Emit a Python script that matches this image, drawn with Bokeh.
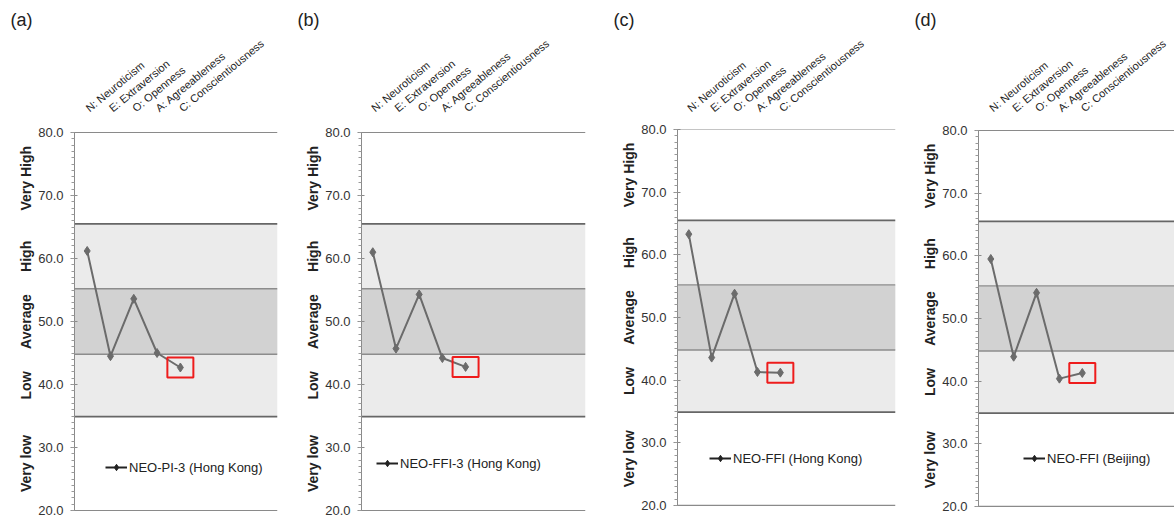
from bokeh.plotting import figure
from bokeh.layouts import row
from bokeh.models import (Range1d, LinearAxis, FixedTicker, BoxAnnotation, Span,
                          Title, Legend, LegendItem, PrintfTickFormatter)
from bokeh.embed import file_html
from bokeh.resources import INLINE

FONT = "Liberation Sans"

# ---------------- data ----------------
categories = ["N: Neuroticism", "E: Extraversion", "O: Openness",
              "A: Agreeableness", "C: Conscientiousness"]
positions = [1, 2, 3, 4, 5]
scores_a = [61.2, 44.5, 53.6, 45.0, 42.7]
scores_b = [61.0, 45.7, 54.3, 44.2, 42.8]
scores_c = [63.3, 43.6, 53.8, 41.3, 41.2]
scores_d = [59.5, 43.9, 54.1, 40.4, 41.3]
series_names = ["NEO-PI-3 (Hong Kong)", "NEO-FFI-3 (Hong Kong)",
                "NEO-FFI (Hong Kong)", "NEO-FFI (Beijing)"]
panel_tags = ["(a)", "(b)", "(c)", "(d)"]
band_edges = [20.0, 34.9, 44.8, 55.2, 65.5, 80.0]
band_names = ["Very low", "Low", "Average", "High", "Very High"]
y_ticks = [20, 30, 40, 50, 60, 70, 80]
highlight_index = 4

# ---------------- layout per panel ----------------
H = 518
MBT = 129
MBB = 2
panels = [
    dict(scores=scores_a, width=290, mbl=74, mbr=13,
         xr=(0.455, 9.17), yr=(19.05, 80.48), leg=(31, 41)),
    dict(scores=scores_b, width=310, mbl=71, mbr=15,
         xr=(0.513, 10.17), yr=(19.05, 80.48), leg=(15, 45)),
    dict(scores=scores_c, width=300, mbl=77, mbr=5,
         xr=(0.507, 10.03), yr=(18.24, 80.0), leg=(32, 50)),
    dict(scores=scores_d, width=274, mbl=78, mbr=0,
         xr=(0.463, 9.03), yr=(18.40, 80.16), leg=(45, 50)),
]

figs = []
for i, pd_ in enumerate(panels):
    scores = pd_["scores"]
    p = figure(width=pd_["width"], height=H, output_backend="svg",
               toolbar_location=None, x_axis_location=None,
               x_range=Range1d(*pd_["xr"]), y_range=Range1d(*pd_["yr"]),
               min_border_left=pd_["mbl"], min_border_right=pd_["mbr"],
               min_border_top=MBT, min_border_bottom=MBB)
    p.outline_line_color = None
    p.background_fill_color = "white"
    p.border_fill_color = "white"
    p.xgrid.visible = False
    p.ygrid.visible = False

    # panel tag as title
    p.title = Title(text=panel_tags[i], align="left", offset=-64, standoff=0,
                    text_font=FONT, text_font_size="18px",
                    text_font_style="normal", text_color="#222222")

    # numeric y axis
    ya = p.yaxis[0]
    ya.bounds = (band_edges[0], band_edges[-1])
    ya.ticker = FixedTicker(ticks=y_ticks, minor_ticks=[float(v) for v in range(20, 81)])
    ya.formatter = PrintfTickFormatter(format="%.1f")
    ya.axis_line_color = "#8a8a8a"
    ya.major_tick_line_color = "#8a8a8a"
    ya.minor_tick_line_color = "#9a9a9a"
    ya.major_tick_out = 4
    ya.major_tick_in = 3
    ya.minor_tick_out = 3
    ya.minor_tick_in = 0
    ya.major_label_standoff = 7
    ya.major_label_text_font = FONT
    ya.major_label_text_font_size = "13px"
    ya.major_label_text_color = "#333333"

    # band-name axis
    mids = [(band_edges[k] + band_edges[k + 1]) / 2 for k in range(len(band_names))]
    ga = LinearAxis(ticker=FixedTicker(ticks=mids),
                    major_label_overrides={m: n for m, n in zip(mids, band_names)})
    ga.axis_line_color = None
    ga.major_tick_line_color = None
    ga.minor_tick_line_color = None
    ga.major_tick_out = 0
    ga.major_tick_in = 0
    ga.minor_tick_out = 0
    ga.major_label_orientation = "vertical"
    ga.major_label_standoff = 1
    ga.major_label_text_font = FONT
    ga.major_label_text_font_size = "14px"
    ga.major_label_text_font_style = "bold"
    ga.major_label_text_color = "#222222"
    p.add_layout(ga, "left")

    # header axis with trait names
    ha = LinearAxis(ticker=FixedTicker(ticks=positions),
                    major_label_overrides={pp: c for pp, c in zip(positions, categories)})
    ha.axis_line_color = None
    ha.major_tick_line_color = None
    ha.minor_tick_line_color = None
    ha.major_tick_out = 0
    ha.major_tick_in = 0
    ha.minor_tick_out = 0
    ha.major_label_orientation = 0.69
    ha.major_label_standoff = 20
    ha.major_label_text_font = FONT
    ha.major_label_text_font_size = "11px"
    ha.major_label_text_color = "#222222"
    p.add_layout(ha, "above")

    # bands
    p.add_layout(BoxAnnotation(bottom=band_edges[1], top=band_edges[4],
                               fill_color="#ebebeb", fill_alpha=1.0,
                               line_color=None, level="underlay"))
    p.add_layout(BoxAnnotation(bottom=band_edges[2], top=band_edges[3],
                               fill_color="#d2d2d2", fill_alpha=1.0,
                               line_color=None, level="underlay"))
    edge_styles = [("#8a8a8a", 1.2), ("#666666", 1.6), ("#8c8c8c", 1.4),
                   ("#8c8c8c", 1.4), ("#666666", 1.6), ("#8a8a8a", 1.2)]
    for e, (col, w) in zip(band_edges, edge_styles):
        p.add_layout(Span(location=e, dimension="width", line_color=col,
                          line_width=w, level="underlay"))

    # series
    p.line(positions, scores, line_color="#6b6b6b", line_width=2)
    p.scatter(positions, scores, marker="diamond", size=9,
              fill_color="#6b6b6b", line_color="#6b6b6b")

    # highlight box
    p.rect(x=[positions[highlight_index]], y=[scores[highlight_index]],
           width=26, height=20, width_units="screen", height_units="screen",
           fill_alpha=0, line_color="#ee1c1c", line_width=2)

    # legend (hidden renderers in darker style, used only for the legend glyph)
    lr = p.line(positions, scores, line_color="#222222", line_width=2, visible=False)
    sr = p.scatter(positions, scores, marker="diamond", size=7,
                   fill_color="#222222", line_color="#222222", visible=False)
    leg = Legend(items=[LegendItem(label=series_names[i], renderers=[lr, sr])],
                 location=pd_["leg"], border_line_color=None,
                 background_fill_alpha=0, padding=0, margin=0, spacing=0,
                 glyph_width=22, glyph_height=16, label_height=16,
                 label_standoff=2, label_text_font=FONT,
                 label_text_font_size="13px", label_text_color="#222222")
    p.add_layout(leg)
    figs.append(p)

layout = row(*figs, spacing=0)
open("out.html", "w").write(file_html(layout, INLINE))
